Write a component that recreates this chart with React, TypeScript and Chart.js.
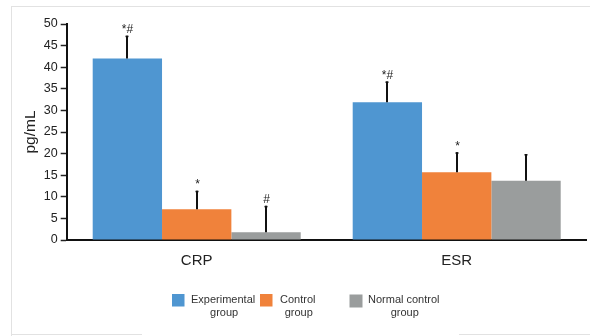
import React, { useEffect, useRef } from "react";
import { Chart, registerables } from "chart.js";

Chart.register(...registerables);

// Categories and group means (pg/mL)
const categories = ["CRP", "ESR"];
const experimental = [42, 31.9];
const control = [7.1, 15.7];
const normalControl = [1.8, 13.7];

// Upper error (SD) for each group
const experimentalSd = [5.3, 4.8];
const controlSd = [4.3, 4.6];
const normalControlSd = [6.1, 6.2];

// Significance marks above the error bars
const experimentalMarks = ["*#", "*#"];
const controlMarks = ["*", "*"];
const normalControlMarks = ["#", ""];

const groupNames = [
  ["Experimental", "group"],
  ["Control", "group"],
  ["Normal control", "group"],
];
const yTicks = [0, 5, 10, 15, 20, 25, 30, 35, 40, 45, 50];

const colors = ["#4f96d1", "#f0823b", "#9a9d9d"];
const FONT = "'Liberation Sans', Arial, sans-serif";

const sds = [experimentalSd, controlSd, normalControlSd];
const marks = [experimentalMarks, controlMarks, normalControlMarks];

const errorBarPlugin = {
  id: "errorBars",
  afterDatasetsDraw(chart: any) {
    const { ctx } = chart;
    const y = chart.scales.y;
    ctx.save();
    chart.data.datasets.forEach((ds: any, di: number) => {
      const meta = chart.getDatasetMeta(di);
      meta.data.forEach((bar: any, i: number) => {
        const v = ds.data[i];
        const top = y.getPixelForValue(v + sds[di][i]);
        const base = y.getPixelForValue(v);
        const x = Math.round(bar.x);
        ctx.strokeStyle = "#111";
        ctx.lineWidth = 2;
        ctx.beginPath();
        ctx.moveTo(x, base);
        ctx.lineTo(x, top);
        ctx.stroke();
        ctx.lineWidth = 1.5;
        ctx.beginPath();
        ctx.moveTo(x - 1.5, top + 0.75);
        ctx.lineTo(x + 1.5, top + 0.75);
        ctx.stroke();
        const m = marks[di][i];
        if (m) {
          ctx.fillStyle = "#222";
          ctx.font = `12px ${FONT}`;
          ctx.textAlign = "center";
          ctx.textBaseline = "alphabetic";
          ctx.fillText(m, x + 0.5, top - 2.5);
        }
      });
    });
    ctx.restore();
  },
};

// Legend with two-line labels placed below the axis
const legendItems = [
  { box: 172, boxTop: 294, size: 12.5, text: 191 },
  { box: 260, boxTop: 294, size: 12.5, text: 280 },
  { box: 349.5, boxTop: 294.5, size: 13, text: 368 },
];

const legendPlugin = {
  id: "twoLineLegend",
  afterDraw(chart: any) {
    const { ctx } = chart;
    ctx.save();
    ctx.font = `11px ${FONT}`;
    ctx.textBaseline = "alphabetic";
    legendItems.forEach((it, i) => {
      ctx.fillStyle = colors[i];
      ctx.fillRect(it.box, it.boxTop, it.size, it.size);
      const [l1, l2] = groupNames[i];
      const w = ctx.measureText(l1).width;
      const cx = it.text + w / 2;
      ctx.fillStyle = "#333";
      ctx.textAlign = "center";
      ctx.fillText(l1, cx, 302.5);
      ctx.fillText(l2, cx + 1, 316);
    });
    ctx.restore();
  },
};

export default function App() {
  const canvasRef = useRef<HTMLCanvasElement | null>(null);

  useEffect(() => {
    if (!canvasRef.current) return;
    const chart = new Chart(canvasRef.current, {
      type: "bar",
      data: {
        labels: categories,
        datasets: [
          { label: groupNames[0].join(" "), data: experimental, backgroundColor: colors[0] },
          { label: groupNames[1].join(" "), data: control, backgroundColor: colors[1] },
          { label: groupNames[2].join(" "), data: normalControl, backgroundColor: colors[2] },
        ],
      },
      options: {
        animation: false,
        responsive: true,
        maintainAspectRatio: false,
        datasets: {
          bar: { categoryPercentage: 0.8, barPercentage: 1.0, borderWidth: 0 },
        },
        layout: { padding: { top: 24, right: 3.3, bottom: 0, left: 0 } },
        plugins: {
          legend: { display: false },
          tooltip: { enabled: false },
        },
        scales: {
          x: {
            grid: { display: false },
            border: { display: true, color: "#111", width: 2 },
            ticks: {
              color: "#222",
              padding: 4,
              font: { family: FONT, size: 15 },
            },
            afterFit: (scale: any) => {
              scale.height = 96;
            },
          },
          y: {
            min: 0,
            max: 50,
            afterBuildTicks: (scale: any) => {
              scale.ticks = yTicks.map((v) => ({ value: v }));
            },
            grid: {
              display: true,
              drawOnChartArea: false,
              drawTicks: true,
              tickLength: 6,
              tickColor: "#222",
              tickWidth: 1.5,
            },
            border: { display: true, color: "#111", width: 2 },
            ticks: {
              color: "#222",
              padding: 3,
              font: { family: FONT, size: 12.5 },
            },
            title: {
              display: true,
              text: "pg/mL",
              color: "#222",
              font: { family: FONT, size: 15.5, lineHeight: 1.2 },
              padding: { top: 21, bottom: 0 },
            },
            afterFit: (scale: any) => {
              scale.width = 66.7;
            },
          },
        },
      },
      plugins: [errorBarPlugin, legendPlugin],
    });
    return () => chart.destroy();
  }, []);

  const line = (style: React.CSSProperties) => (
    <div style={{ position: "absolute", background: "#e2e2e2", ...style }} />
  );

  return (
    <div
      style={{
        position: "fixed",
        left: 0,
        top: 0,
        width: 590,
        height: 336,
        background: "#fff",
        overflow: "hidden",
      }}
    >
      {line({ left: 11, top: 6, width: 579, height: 1 })}
      {line({ left: 11, top: 6, width: 1, height: 330 })}
      {line({ left: 11, top: 334, width: 131, height: 1 })}
      {line({ left: 459, top: 334, width: 131, height: 1 })}
      <canvas ref={canvasRef} style={{ position: "absolute", left: 0, top: 0 }} />
    </div>
  );
}
